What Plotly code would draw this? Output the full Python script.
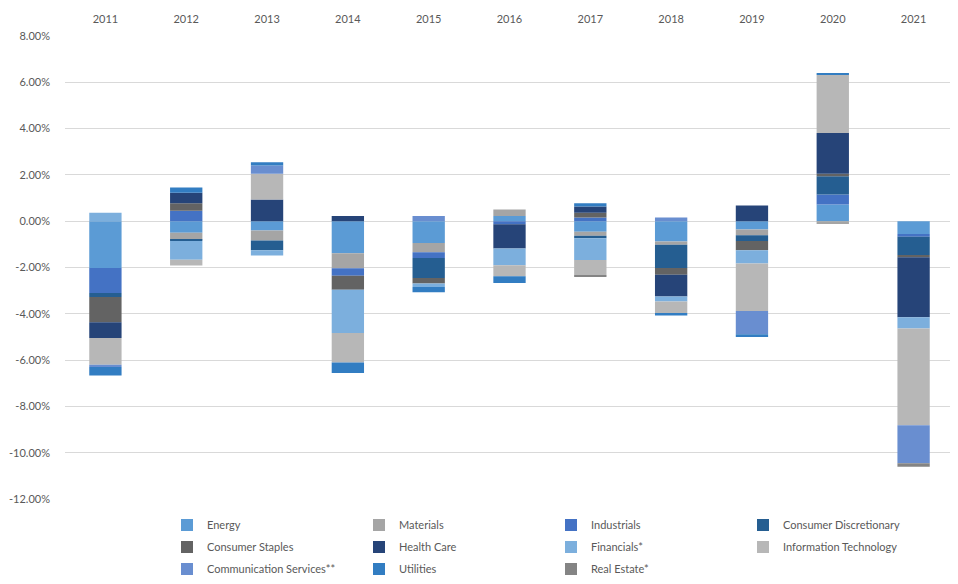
import plotly.graph_objects as go

years = ["2011", "2012", "2013", "2014", "2015", "2016", "2017", "2018", "2019", "2020", "2021"]

sectors = ["Energy", "Materials", "Industrials", "Consumer Discretionary",
           "Consumer Staples", "Health Care", "Financials*", "Information Technology",
           "Communication Services**", "Utilities", "Real Estate*"]

colors = ["#5B9BD5", "#A5A5A5", "#4472C4", "#255E91",
          "#636363", "#264478", "#7CAFDD", "#B7B7B7",
          "#698ED0", "#327DC2", "#848484"]

energy      = [-2.02, -0.50, -0.40, -1.38, -0.94, 0.22, -0.46, -0.88, -0.36, 0.72, -0.55]
materials   = [0.00, -0.29, -0.43, -0.65, -0.40, 0.29, -0.17, -0.14, -0.25, -0.12, 0.00]
industrials = [-1.08, 0.45, 0.00, -0.33, -0.25, -0.13, 0.16, 0.00, 0.00, 0.43, -0.12]
cons_disc   = [-0.17, -0.07, -0.43, 0.00, -0.86, 0.00, -0.11, -1.00, -0.25, 0.79, -0.79]
cons_stap   = [-1.10, 0.32, 0.00, -0.60, -0.24, 0.00, 0.20, -0.29, -0.40, 0.11, -0.10]
health_care = [-0.68, 0.46, 0.94, 0.22, 0.00, -1.05, 0.27, -0.94, 0.68, 1.76, -2.59]
financials  = [0.37, -0.80, -0.22, -1.87, -0.15, -0.72, -0.94, -0.22, -0.57, 0.00, -0.48]
info_tech   = [-1.15, -0.25, 1.11, -1.27, 0.00, -0.48, -0.65, -0.50, -2.05, 2.52, -4.18]
comm_serv   = [-0.10, 0.00, 0.36, 0.00, 0.22, 0.00, 0.00, 0.16, -1.00, 0.00, -1.65]
utilities   = [-0.36, 0.23, 0.14, -0.46, -0.23, -0.29, 0.15, -0.10, -0.12, 0.05, 0.00]
real_estate = [0.00, 0.00, 0.00, 0.00, 0.00, 0.00, -0.07, 0.00, 0.00, 0.00, -0.15]

series = [energy, materials, industrials, cons_disc, cons_stap, health_care,
          financials, info_tech, comm_serv, utilities, real_estate]

y_ticks = [8, 6, 4, 2, 0, -2, -4, -6, -8, -10, -12]
y_tick_labels = [f"{v:.2f}%" for v in y_ticks]

legend_ids = ["legend"] * 4 + ["legend2"] * 4 + ["legend3"] * 3

FONT = "Lato, 'Open Sans', sans-serif"
TXT = "#595959"

fig = go.Figure()
for name, vals, col, lg in zip(sectors, series, colors, legend_ids):
    fig.add_trace(go.Bar(
        x=years, y=vals, name=name, legend=lg,
        marker=dict(color=col, line=dict(width=0)),
    ))

# page body adds an 8px offset; figure sized to fit the 958x584 window
OFF = 8
W, H = 950, 576
ml, mr, mt, mb = 57, 4, 28, 85
pw, ph = W - ml - mr, H - mt - mb

def px_to_paper_x(px):
    return (px - OFF - ml) / pw

def px_to_paper_y(py):
    return (H - mb - (py - OFF)) / ph

legend_common = dict(
    orientation="h", xanchor="left", yanchor="middle",
    entrywidth=147, entrywidthmode="pixels", itemwidth=30,
    font=dict(family=FONT, size=11, color=TXT),
    bgcolor="rgba(0,0,0,0)", traceorder="normal",
    itemclick=False, itemdoubleclick=False,
)

lx = px_to_paper_x(167)
fig.update_layout(
    width=W, height=H,
    margin=dict(l=ml, r=mr, t=mt, b=mb, autoexpand=False),
    barmode="relative", bargap=0.6,
    paper_bgcolor="white", plot_bgcolor="white",
    font=dict(family=FONT, size=11, color=TXT),
    xaxis=dict(type="category", side="top", showgrid=False, showline=False,
               automargin=False,
               ticks="", ticklabelstandoff=10, tickfont=dict(size=11, color=TXT)),
    yaxis=dict(range=[-12, 8], tickvals=y_ticks, ticktext=y_tick_labels,
               automargin=False,
               showgrid=True, gridcolor="#D9D9D9", gridwidth=1,
               zeroline=False, showline=False, ticks="",
               ticklabelstandoff=14, tickfont=dict(size=11, color=TXT)),
    legend=dict(x=lx, y=px_to_paper_y(525), **legend_common),
    legend2=dict(x=lx, y=px_to_paper_y(547), **legend_common),
    legend3=dict(x=lx, y=px_to_paper_y(569), **legend_common),
    showlegend=True,
)

fig.write_html("out.html")
